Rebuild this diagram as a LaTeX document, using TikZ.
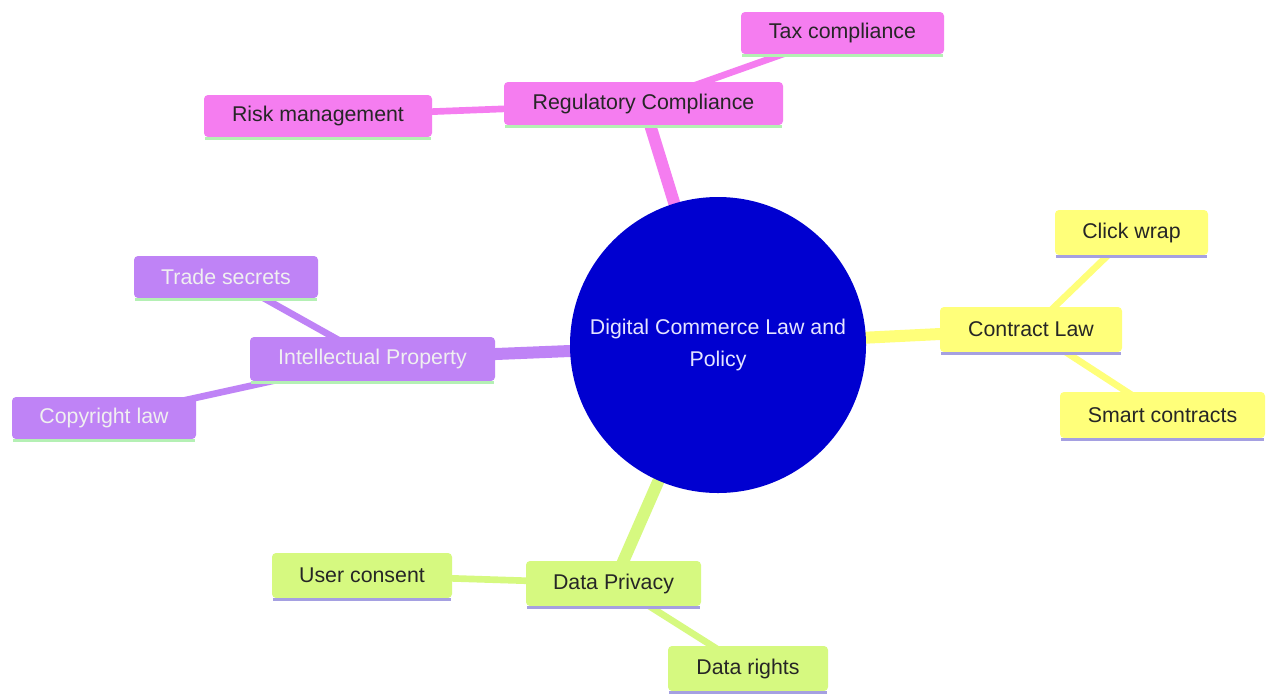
\documentclass[tikz,border=0pt]{standalone}
\usepackage{fontspec}
\setmainfont{Liberation Sans}
\pgfdeclarelayer{bg}
\pgfsetlayers{bg,main}
\definecolor{pinkc}{RGB}{245,125,240}
\definecolor{purpc}{RGB}{191,131,246}
\definecolor{yelc}{RGB}{255,255,122}
\definecolor{grnc}{RGB}{214,249,128}
\definecolor{bluec}{RGB}{0,0,208}
\definecolor{mintl}{RGB}{180,240,180}
\definecolor{lavl}{RGB}{165,160,225}
\begin{document}
\begin{tikzpicture}[x=0.75pt,y=-0.75pt,
  box/.style={rectangle, rounded corners=3pt, inner sep=0pt, font=\fontsize{16}{19}\selectfont},
  sz/.style 2 args={minimum width=#1*0.75pt, minimum height=#2*0.75pt},
  pinkbox/.style={box, fill=pinkc, text=black!85},
  purpbox/.style={box, fill=purpc, text=white!94!black},
  yelbox/.style={box, fill=yelc, text=black!85},
  grnbox/.style={box, fill=grnc, text=black!85},
  trunk/.style={line width=9pt},
  twig/.style={line width=5pt},
  ul/.style={line width=2.2pt}
]
\useasboundingbox (0,0) rectangle (1266,697);

\node[circle, fill=bluec, minimum size=296*0.75pt, inner sep=0pt, align=center,
  text=white!90!blue, font=\fontsize{16}{24}\selectfont] (root) at (718,345)
  {Digital Commerce Law and\\Policy};

\node[pinkbox, sz={279}{43}] (reg) at (643.5,103.5) {Regulatory Compliance};
\node[pinkbox, sz={203}{42}] (tax) at (842.5,33) {Tax compliance};
\node[pinkbox, sz={228}{42}] (risk) at (318,116) {Risk management};

\node[purpbox, sz={245}{44}] (ip) at (372.5,359) {Intellectual Property};
\node[purpbox, sz={184}{42}] (trade) at (226,277) {Trade secrets};
\node[purpbox, sz={184}{42}] (copy) at (104,418) {Copyright law};

\node[yelbox, sz={182}{45}] (con) at (1031,329.5) {Contract Law};
\node[yelbox, sz={153}{45}] (click) at (1131.5,232.5) {Click wrap};
\node[yelbox, sz={205}{46}] (smart) at (1162.5,415) {Smart contracts};

\node[grnbox, sz={175}{45}] (dp) at (613.5,583.5) {Data Privacy};
\node[grnbox, sz={180}{45}] (user) at (362,575.5) {User consent};
\node[grnbox, sz={160}{45}] (rights) at (748,668.5) {Data rights};

\begin{pgfonlayer}{bg}
\fill[white] (0,0) rectangle (1266,697);
\draw[trunk, pinkc] (root.center) -- (reg.center);
\draw[trunk, purpc] (root.center) -- (ip.center);
\draw[trunk, yelc] (root.center) -- (con.center);
\draw[trunk, grnc] (root.center) -- (dp.center);
\draw[twig, pinkc] (reg.center) -- (tax.center);
\draw[twig, pinkc] (reg.center) -- (risk.center);
\draw[twig, purpc] (ip.center) -- (trade.center);
\draw[twig, purpc] (ip.center) -- (copy.center);
\draw[twig, yelc] (con.center) -- (click.center);
\draw[twig, yelc] (con.center) -- (smart.center);
\draw[twig, grnc] (dp.center) -- (user.center);
\draw[twig, grnc] (dp.center) -- (rights.center);
\end{pgfonlayer}

\foreach \n in {reg,tax,risk,ip,trade,copy}
  \draw[ul, mintl] ([yshift=-1pt,xshift=1pt]\n.south west) -- ([yshift=-1pt,xshift=-1pt]\n.south east);
\foreach \n in {con,click,smart,dp,user,rights}
  \draw[ul, lavl] ([yshift=-1pt,xshift=1pt]\n.south west) -- ([yshift=-1pt,xshift=-1pt]\n.south east);
\end{tikzpicture}
\end{document}
